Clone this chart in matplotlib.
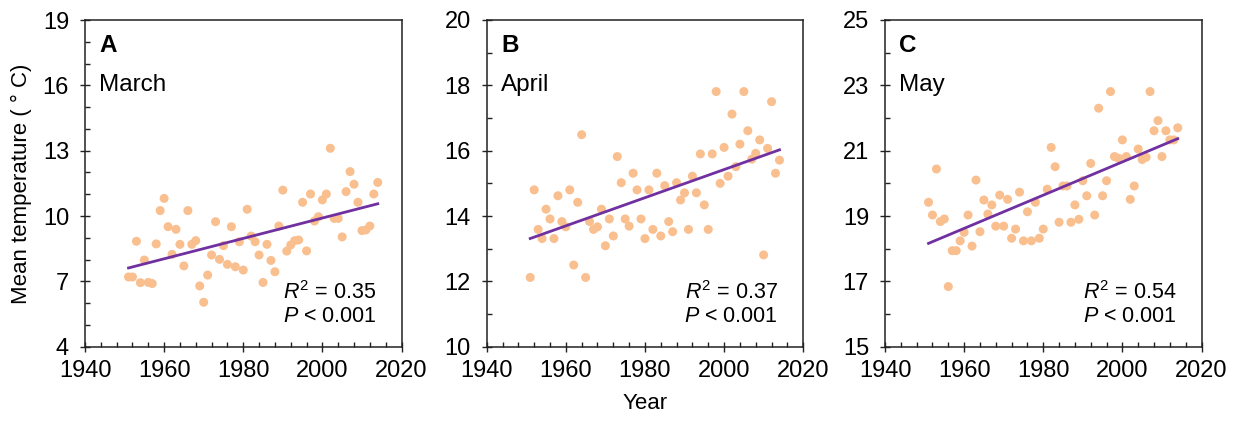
import numpy as np
import matplotlib
matplotlib.use("Agg")
import matplotlib.pyplot as plt
from matplotlib.ticker import FixedLocator

plt.rcParams['font.family'] = ['Liberation Sans', 'DejaVu Sans']
plt.rcParams['mathtext.fontset'] = 'custom'
plt.rcParams['mathtext.rm'] = 'Liberation Sans'
plt.rcParams['mathtext.it'] = 'Liberation Sans:italic'

years = list(range(1951, 2015))

march = [7.2, 7.2, 8.84, 6.94, 7.98, 6.95, 6.9, 8.72, 10.25, 10.81,
         9.51, 8.24, 9.39, 8.70, 7.71, 10.25, 8.70, 8.87, 6.79, 6.04,
         7.29, 8.21, 9.74, 8.01, 8.64, 7.78, 9.51, 7.67, 8.82, 7.52,
         10.31, 9.08, 8.82, 8.21, 6.95, 8.70, 7.96, 7.44, 9.54, 11.19,
         8.39, 8.67, 8.87, 8.90, 10.63, 8.40, 11.01, 9.77, 9.97, 10.74,
         11.01, 13.11, 9.89, 9.89, 9.04, 11.12, 12.04, 11.46, 10.63, 9.33,
         9.36, 9.54, 11.01, 11.54]

april = [12.12, 14.80, 13.59, 13.31, 14.21, 13.91, 13.31, 14.62, 13.83, 13.67,
         14.80, 12.50, 14.42, 16.49, 12.12, 13.83, 13.59, 13.67, 14.21, 13.09,
         13.91, 13.39, 15.82, 15.02, 13.91, 13.69, 15.31, 14.80, 13.91, 13.31,
         14.80, 13.59, 15.31, 13.39, 14.93, 13.83, 13.52, 15.02, 14.49, 14.71,
         13.59, 15.22, 14.71, 15.90, 14.34, 13.59, 15.90, 17.81, 15.00, 16.10,
         15.22, 17.12, 15.51, 16.20, 17.81, 16.61, 15.74, 15.92, 16.33, 12.81,
         16.07, 17.50, 15.31, 15.71]

may = [19.42, 19.03, 20.44, 18.83, 18.91, 16.84, 17.94, 17.94, 18.24, 18.50,
       19.03, 18.08, 20.10, 18.52, 19.49, 19.06, 19.34, 18.69, 19.64, 18.69,
       19.51, 18.32, 18.60, 19.73, 18.24, 19.13, 18.24, 19.42, 18.32, 18.60,
       19.82, 21.10, 20.51, 18.81, 19.92, 19.92, 18.81, 19.34, 18.90, 20.08,
       19.62, 20.61, 19.03, 22.30, 19.62, 20.08, 22.81, 20.82, 20.77, 21.33,
       20.82, 19.51, 19.92, 21.05, 20.73, 20.80, 22.81, 21.61, 21.92, 20.82,
       21.61, 21.33, 21.33, 21.70]

panel_letters = ['A', 'B', 'C']
month_names = ['March', 'April', 'May']
r2_texts = ['0.35', '0.37', '0.54']
x_ticks = [1940, 1960, 1980, 2000, 2020]
y_ticks = [[4, 7, 10, 13, 16, 19],
           [10, 12, 14, 16, 18, 20],
           [15, 17, 19, 21, 23, 25]]
series = [march, april, may]

dot_color = '#F9BF8F'
line_color = '#7030A0'

fig = plt.figure(figsize=(12.4, 4.22), dpi=100)
lefts = [85 / 1240, 486.7 / 1240, 885 / 1240]
width = 316.5 / 1240
bottom = (422 - 346.7) / 422
height = 326.7 / 422

for i in range(3):
    ax = fig.add_axes([lefts[i], bottom, width, height])
    x = np.array(years)
    y = np.array(series[i])
    ax.scatter(x, y, s=42, color=dot_color, edgecolors='none', zorder=2)
    coef = np.polyfit(x, y, 1)
    xl = np.array([x.min(), x.max()])
    ax.plot(xl, np.polyval(coef, xl), color=line_color, lw=2.0, zorder=3)
    yt = y_ticks[i]
    ax.set_xlim(x_ticks[0], x_ticks[-1])
    ax.set_ylim(yt[0], yt[-1])
    ax.xaxis.set_major_locator(FixedLocator(x_ticks))
    ax.xaxis.set_minor_locator(FixedLocator(np.arange(x_ticks[0], x_ticks[-1] + 1, 4)))
    ax.yaxis.set_major_locator(FixedLocator(yt))
    ax.yaxis.set_minor_locator(FixedLocator(np.arange(yt[0], yt[-1] + 1, 1)))
    ax.tick_params(which='major', direction='inout', length=7, width=1.0,
                   labelsize=17, color='#222222')
    ax.tick_params(axis='x', which='major', pad=6)
    ax.tick_params(axis='y', which='major', pad=8)
    ax.tick_params(which='minor', direction='in', length=3.6, width=1.0,
                   color='#222222')
    for sp in ax.spines.values():
        sp.set_linewidth(1.1)
        sp.set_color('#222222')
    ax.text(0.045, 0.902, panel_letters[i], transform=ax.transAxes,
            fontsize=17.5, fontweight='bold', va='baseline', ha='left')
    ax.text(0.045, 0.784, month_names[i], transform=ax.transAxes,
            fontsize=17.5, va='baseline', ha='left')
    ax.text(0.92, 0.147, r'$R^2$ = ' + r2_texts[i], transform=ax.transAxes,
            fontsize=15.5, va='baseline', ha='right')
    ax.text(0.92, 0.075, r'$P$ < 0.001', transform=ax.transAxes,
            fontsize=15.5, va='baseline', ha='right')
    if i == 0:
        ax.set_ylabel('Mean temperature ( ° C)', fontsize=16, labelpad=8)
    if i == 1:
        ax.set_xlabel('Year', fontsize=16, labelpad=8)

fig.savefig('out.png', dpi=100)
